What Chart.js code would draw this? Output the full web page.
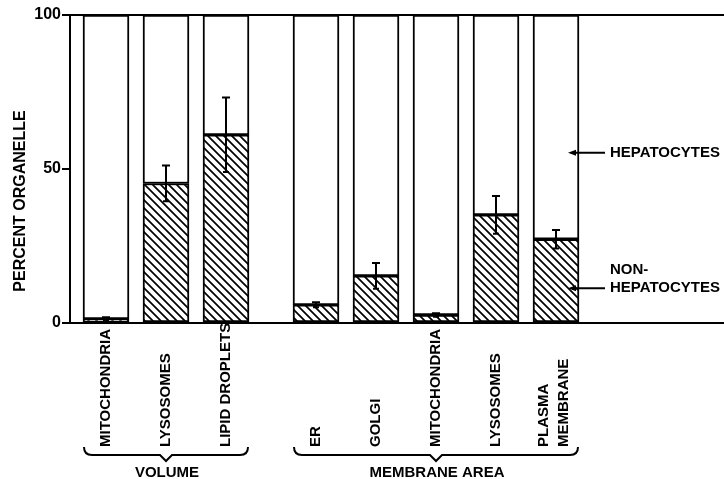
<!DOCTYPE html>
<html>
<head>
<meta charset="utf-8">
<script src="https://cdn.jsdelivr.net/npm/chart.js@4/dist/chart.umd.min.js"></script>
<style>
html,body{margin:0;padding:0;background:#fff;}
#wrap{width:724px;height:479px;position:relative;}
</style>
</head>
<body>
<div id="wrap"><canvas id="c" width="724" height="479"></canvas></div>
<script>
// ---- data ----
const categories = [["MITOCHONDRIA"],["LYSOSOMES"],["LIPID DROPLETS"],["ER"],["GOLGI"],["MITOCHONDRIA"],["LYSOSOMES"],["PLASMA","MEMBRANE"]];
const groups = ["VOLUME","VOLUME","VOLUME","MEMBRANE AREA","MEMBRANE AREA","MEMBRANE AREA","MEMBRANE AREA","MEMBRANE AREA"];
const nonHepatocytes = [1.3, 45.3, 61.1, 5.9, 15.3, 2.6, 35.1, 27.2];
const hepatocytes    = [98.7, 54.7, 38.9, 94.1, 84.7, 97.4, 64.9, 72.8];
const errors         = [0.6, 5.8, 12.1, 0.8, 4.2, 0.6, 6.1, 3.0];
const yTicks = [0, 50, 100];
const yTitle = "PERCENT ORGANELLE";
const seriesLabels = [["NON-","HEPATOCYTES"],["HEPATOCYTES"]];
const seriesLabelLevels = [11.3, 55.3];

// ---- derived ----
const groupNames = [...new Set(groups)];
const xs = categories.map((_, i) => i + 0.5 * groupNames.indexOf(groups[i]));

Chart.defaults.font.family = "'Liberation Sans', Arial, sans-serif";
Chart.defaults.color = "#000";

function hatch(){
  const c = document.createElement('canvas'); c.width = 8; c.height = 8;
  const g = c.getContext('2d');
  g.fillStyle = '#fff'; g.fillRect(0,0,8,8);
  g.strokeStyle = '#000'; g.lineWidth = 1.7;
  g.beginPath();
  g.moveTo(-2,-2); g.lineTo(10,10);
  g.moveTo(6,-2); g.lineTo(10,2);
  g.moveTo(-2,6); g.lineTo(2,10);
  g.stroke();
  return g.createPattern(c, 'repeat');
}
const FONT = "bold 15px 'Liberation Sans', Arial, sans-serif";

const decor = {
  id: 'decor',
  afterDatasetsDraw(chart){
    const {ctx, scales:{x, y}} = chart;
    ctx.save();
    ctx.strokeStyle = '#000'; ctx.fillStyle = '#000'; ctx.lineWidth = 2;
    nonHepatocytes.forEach((v, i) => {
      const px = x.getPixelForValue(xs[i]);
      const top = y.getPixelForValue(v + errors[i]);
      const bot = y.getPixelForValue(v - errors[i]);
      ctx.beginPath();
      ctx.moveTo(px, top); ctx.lineTo(px, bot);
      ctx.moveTo(px - 4, top); ctx.lineTo(px + 4, top);
      ctx.moveTo(px - 3, bot); ctx.lineTo(px + 3, bot);
      ctx.stroke();
    });
    ctx.restore();
  },
  afterDraw(chart){
    const {ctx, scales:{x, y}, chartArea} = chart;
    ctx.save();
    ctx.fillStyle = '#000'; ctx.strokeStyle = '#000';
    ctx.font = FONT;
    ctx.save();
    ctx.translate(21, 201);
    ctx.rotate(-Math.PI/2);
    ctx.font = "bold 16px 'Liberation Sans', Arial, sans-serif";
    ctx.textAlign = 'center'; ctx.textBaseline = 'middle';
    ctx.fillText(yTitle, 0, 0);
    ctx.restore();
    const labelBase = chartArea.bottom + 124;
    categories.forEach((lines, i) => {
      const px = x.getPixelForValue(xs[i]);
      const n = lines.length;
      lines.forEach((t, k) => {
        ctx.save();
        ctx.translate(px + (k - (n-1)/2) * 20 - 2*(n-1), labelBase);
        ctx.rotate(-Math.PI/2);
        ctx.textAlign = 'left'; ctx.textBaseline = 'middle';
        ctx.fillText(t, 0, 0);
        ctx.restore();
      });
    });
    groupNames.forEach(gn => {
      const idx = groups.map((g,i)=>g===gn?i:-1).filter(i=>i>=0);
      const l = x.getPixelForValue(xs[idx[0]]) - 22;
      const r = x.getPixelForValue(xs[idx[idx.length-1]]) + 22;
      const m = (l + r) / 2;
      const yt = labelBase, yb = labelBase + 8;
      ctx.lineWidth = 2;
      ctx.beginPath();
      ctx.moveTo(l, yt);
      ctx.quadraticCurveTo(l, yb, l + 8, yb);
      ctx.lineTo(m - 6, yb);
      ctx.lineTo(m, yb + 6);
      ctx.lineTo(m + 6, yb);
      ctx.lineTo(r - 8, yb);
      ctx.quadraticCurveTo(r, yb, r, yt);
      ctx.stroke();
      ctx.textAlign = 'center'; ctx.textBaseline = 'middle';
      ctx.fillText(gn, m + 1, yb + 18);
    });
    const lastX = x.getPixelForValue(xs[xs.length-1]);
    seriesLabels.forEach((lines, s) => {
      const py = y.getPixelForValue(seriesLabelLevels[s]);
      const tip = lastX + 12, end = lastX + 49;
      ctx.lineWidth = 2;
      ctx.beginPath(); ctx.moveTo(tip + 4, py); ctx.lineTo(end, py); ctx.stroke();
      ctx.beginPath(); ctx.moveTo(tip, py); ctx.lineTo(tip + 8, py - 3); ctx.lineTo(tip + 8, py + 3); ctx.closePath(); ctx.fill();
      ctx.textAlign = 'left'; ctx.textBaseline = 'middle';
      const n = lines.length;
      lines.forEach((t, k) => {
        ctx.fillText(t, end + 5, py - (n - 1 - k) * 18);
      });
    });
    ctx.restore();
  }
};

new Chart(document.getElementById('c'), {
  type: 'bar',
  data: {
    datasets: [
      {
        label: 'NON-HEPATOCYTES',
        data: xs.map((v, i) => ({x: v, y: nonHepatocytes[i]})),
        backgroundColor: hatch(),
        borderColor: '#000', borderWidth: 2, borderSkipped: false,
        barThickness: 46
      },
      {
        label: 'HEPATOCYTES',
        data: xs.map((v, i) => ({x: v, y: hepatocytes[i]})),
        backgroundColor: '#fff',
        borderColor: '#000', borderWidth: 2, borderSkipped: false,
        barThickness: 46
      }
    ]
  },
  options: {
    responsive: false,
    animation: false,
    layout: { padding: { top: 15, bottom: 156, left: 0, right: 0 } },
    plugins: { legend: { display: false }, tooltip: { enabled: false } },
    scales: {
      x: { type: 'linear', display: false, stacked: true, offset: false, min: -0.6, max: 10.3 },
      y: {
        stacked: true, min: 0, max: 100,
        afterBuildTicks: s => { s.ticks = yTicks.map(v => ({value: v})); },
        afterFit: s => { s.width = 70; },
        ticks: { font: { size: 16, weight: 'bold' }, color: '#000', padding: 1 },
        grid: {
          color: c => (c.tick && c.tick.value === 50) ? 'rgba(0,0,0,0)' : '#000',
          tickColor: '#000', lineWidth: 2, tickLength: 8, drawTicks: true
        },
        border: { display: true, color: '#000', width: 2 }
      }
    }
  },
  plugins: [decor]
});
</script>
</body>
</html>
